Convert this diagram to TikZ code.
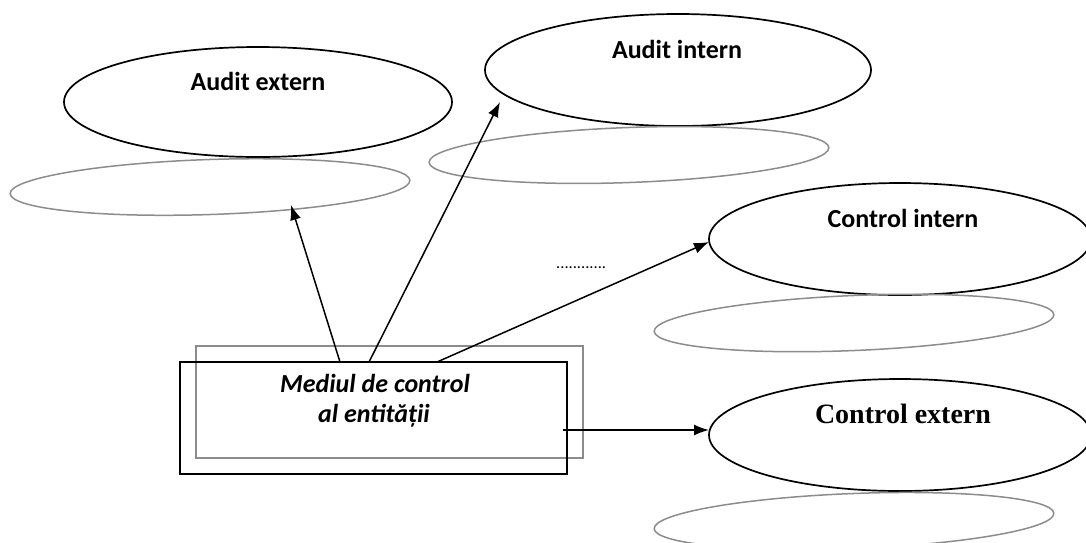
\documentclass[tikz,border=0pt]{standalone}
\usepackage{fontspec}
\setmainfont{Carlito}
\newfontfamily\timesfont{Liberation Serif}
\usetikzlibrary{shapes.geometric,arrows.meta}
\begin{document}
\begin{tikzpicture}[x=1pt,y=-1pt,
  oval/.style={draw=black,line width=1.7pt,ellipse,inner sep=0pt},
  ghost/.style={draw=black!45,line width=1.5pt,ellipse,inner sep=0pt,minimum width=400pt,minimum height=55pt},
  lbl/.style={inner sep=0pt,anchor=base,font=\fontsize{26}{31}\selectfont\bfseries},
  conn/.style={line width=1.5pt,-{Latex[length=15pt,width=11pt]}}]
\useasboundingbox (0,0) rectangle (1086,542);
\clip (0,0) rectangle (1086,542);

% main ellipses
\node[oval,minimum width=388pt,minimum height=110pt] (ae) at (258,102) {};
\node[oval,minimum width=386pt,minimum height=112pt] (ai) at (678,70) {};
\node[oval,minimum width=382pt,minimum height=112pt] (ci) at (900,239) {};
\node[oval,minimum width=382pt,minimum height=112pt] (ce) at (900,435) {};

% grey ellipses
\node[ghost,rotate=1.9] (g1) at (210,187) {};
\node[ghost,rotate=2.1] (g2) at (629,155) {};
\node[ghost,rotate=2.4] (g3) at (854,323) {};
\node[ghost,rotate=2.2] (g4) at (854,521) {};

% labels
\node[lbl] (tae) at (258,90) {Audit extern};
\node[lbl] (tai) at (677,58) {Audit intern};
\node[lbl] (tci) at (903,227) {Control intern};
\node[lbl,font=\fontsize{28}{33}\selectfont\timesfont\bfseries] (tce) at (903,423) {Control extern};

% central box
\node[draw=black!45,line width=1.6pt,minimum width=387pt,minimum height=112pt,inner sep=0pt] (gbox) at (389.5,402) {};
\node[draw=black,line width=1.8pt,minimum width=387pt,minimum height=112pt,inner sep=0pt] (box) at (373.5,418) {};
\node[lbl,font=\fontsize{26}{31}\selectfont\bfseries\itshape] (t1) at (375,392) {Mediul de control};
\node[lbl,font=\fontsize{26}{31}\selectfont\bfseries\itshape] (t2) at (374,422) {al entității};

% dots
\node[inner sep=0pt,anchor=base west,font=\fontsize{16.5}{20}\selectfont] (dots) at (556,268) {............};

% connector end points
\coordinate (s1) at (340,362);
\coordinate (s2) at (369,362);
\coordinate (s3) at (437,362);
\coordinate (s4) at (563,430);
\coordinate (e1) at (291,205);
\coordinate (e2) at (500,102);
\coordinate (e3) at (709,242);
\coordinate (e4) at (709,430);

\draw[conn] (s1) -- (e1);
\draw[conn] (s2) -- (e2);
\draw[conn] (s3) -- (e3);
\draw[conn] (s4) -- (e4);
\end{tikzpicture}
\end{document}
